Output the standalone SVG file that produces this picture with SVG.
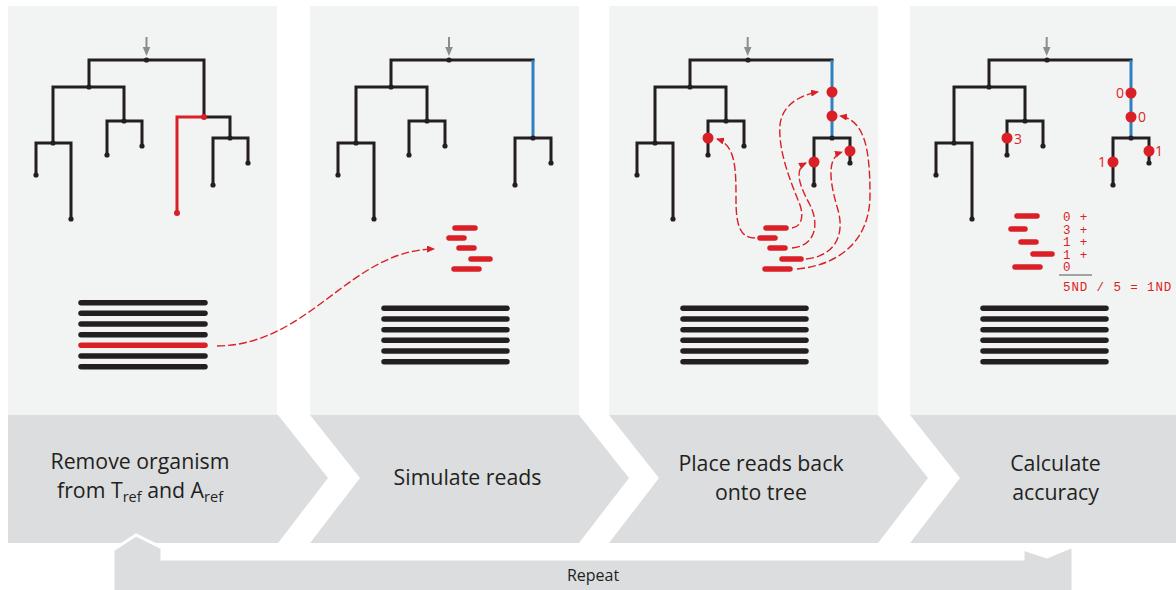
<svg xmlns="http://www.w3.org/2000/svg" width="1176" height="590" viewBox="0 0 1176 590">
  <style>
    .panel { fill: #f2f3f3; }
    .chev { fill: #dcdddf; }
    .br { fill: none; stroke: #231f20; stroke-width: 3; stroke-linecap: square; stroke-linejoin: miter; }
    .br.blue { stroke: #2f7fc1; stroke-linecap: butt; }
    .br.red { stroke: #da1f26; }
    .node { fill: #231f20; }
    .dot { fill: #da1f26; }
    .aln { stroke: #231f20; stroke-width: 5.5; stroke-linecap: round; }
    .read { stroke: #da1f26; stroke-width: 5.5; stroke-linecap: round; }
    .dash { fill: none; stroke: #da1f26; stroke-width: 1.4; stroke-dasharray: 8 3; marker-end: url(#head); }
    .root { stroke: #8b8d90; stroke-width: 2; }
    .rootHead { fill: #8b8d90; }
    .step { font-family: "Open Sans", "Liberation Sans", sans-serif; font-size: 21.3px; fill: #231f20; text-anchor: middle; }
    .sub { font-size: 14.5px; }
    .num { font-family: "Open Sans", "Liberation Sans", sans-serif; font-size: 14px; fill: #da1f26; }
    .mono { font-family: "Liberation Mono", "DejaVu Sans Mono", monospace; font-size: 12.5px; letter-spacing: 0.9px; fill: #da1f26; }
  </style>
  <defs>
    <marker id="head" viewBox="0 0 8 7" refX="7" refY="3.5" markerWidth="8" markerHeight="7" markerUnits="userSpaceOnUse" orient="auto">
      <path d="M0,0 L8,3.5 L0,7 z" fill="#da1f26"/>
    </marker>
    <g id="rootArrow">
      <line class="root" x1="0" y1="37" x2="0" y2="50"/>
      <path class="rootHead" d="M-3.8,47 L3.8,47 L0,56 z"/>
    </g>
    <!-- reduced tree (organism removed), right branch highlighted -->
    <g id="tree">
      <path class="br" d="M391,87 V60 H533"/>
      <path class="br blue" d="M533,60 V138"/>
      <path class="br" d="M356,143 V87 H427 V121"/>
      <path class="br" d="M338,175 V143 H374 V219"/>
      <path class="br" d="M409,155 V121 H445 V146"/>
      <path class="br" d="M515,185 V138 H551 V163"/>
      <circle class="node" cx="449" cy="60" r="2.6"/>
      <circle class="node" cx="391" cy="87" r="2.6"/>
      <circle class="node" cx="356" cy="143" r="2.6"/>
      <circle class="node" cx="427" cy="121" r="2.6"/>
      <circle class="node" cx="533" cy="138" r="2.6"/>
      <circle class="node" cx="338" cy="175" r="2.6"/>
      <circle class="node" cx="374" cy="219" r="2.6"/>
      <circle class="node" cx="409" cy="155" r="2.6"/>
      <circle class="node" cx="445" cy="146" r="2.6"/>
      <circle class="node" cx="515" cy="185" r="2.6"/>
      <circle class="node" cx="551" cy="163" r="2.6"/>
    </g>
    <g id="alignment">
      <line class="aln" x1="0" y1="308.3" x2="123" y2="308.3"/>
      <line class="aln" x1="0" y1="319" x2="123" y2="319"/>
      <line class="aln" x1="0" y1="329.7" x2="123" y2="329.7"/>
      <line class="aln" x1="0" y1="340.3" x2="123" y2="340.3"/>
      <line class="aln" x1="0" y1="351" x2="123" y2="351"/>
      <line class="aln" x1="0" y1="361.7" x2="123" y2="361.7"/>
    </g>
    <g id="reads">
      <line class="read" x1="455" y1="228" x2="475" y2="228"/>
      <line class="read" x1="449" y1="238" x2="464" y2="238"/>
      <line class="read" x1="459" y1="248" x2="474" y2="248"/>
      <line class="read" x1="471" y1="259" x2="490" y2="259"/>
      <line class="read" x1="454" y1="269" x2="479" y2="269"/>
    </g>
  </defs>

  <!-- upper panels -->
  <rect class="panel" x="8" y="6" width="269" height="409"/>
  <rect class="panel" x="310" y="6" width="269" height="409"/>
  <rect class="panel" x="609" y="6" width="269" height="409"/>
  <rect class="panel" x="910" y="6" width="266" height="409"/>

  <!-- step 1: remove organism -->
  <g id="step1">
    <polygon class="chev" points="8,415 278,415 328,478 278,543 8,543"/>
    <use href="#rootArrow" x="146.5"/>
    <path class="br" d="M89,87 V60 H204 V117"/>
    <path class="br" d="M53,143 V87 H124 V121"/>
    <path class="br" d="M36,175 V143 H71 V219"/>
    <path class="br" d="M107,155 V121 H142 V146"/>
    <path class="br" d="M204,117 H230 V138"/>
    <path class="br" d="M213,185 V138 H248 V163"/>
    <path class="br red" d="M204,117 H177 V213"/>
    <circle class="node" cx="146.5" cy="60" r="2.6"/>
    <circle class="node" cx="89" cy="87" r="2.6"/>
    <circle class="node" cx="53" cy="143" r="2.6"/>
    <circle class="node" cx="124" cy="121" r="2.6"/>
    <circle class="node" cx="230" cy="138" r="2.6"/>
    <circle class="node" cx="36" cy="175" r="2.6"/>
    <circle class="node" cx="71" cy="219" r="2.6"/>
    <circle class="node" cx="107" cy="155" r="2.6"/>
    <circle class="node" cx="142" cy="146" r="2.6"/>
    <circle class="node" cx="213" cy="185" r="2.6"/>
    <circle class="node" cx="248" cy="163" r="2.6"/>
    <circle class="dot" cx="204" cy="117" r="3"/>
    <circle class="dot" cx="177" cy="213" r="3"/>
    <line class="aln" x1="81" y1="302.7" x2="205" y2="302.7"/>
    <line class="aln" x1="81" y1="313.3" x2="205" y2="313.3"/>
    <line class="aln" x1="81" y1="324" x2="205" y2="324"/>
    <line class="aln" x1="81" y1="334.7" x2="205" y2="334.7"/>
    <line class="read" x1="81" y1="345.3" x2="205" y2="345.3"/>
    <line class="aln" x1="81" y1="356" x2="205" y2="356"/>
    <line class="aln" x1="81" y1="366.7" x2="205" y2="366.7"/>
    <text class="step" x="140" y="469">Remove organism</text>
    <text class="step" x="140" y="498">from T<tspan class="sub" dy="4">ref</tspan><tspan dy="-4"> and A</tspan><tspan class="sub" dy="4">ref</tspan></text>
  </g>

  <!-- step 2: simulate reads -->
  <g id="step2">
    <polygon class="chev" points="310,415 579,415 629,478 579,543 310,543 360,478"/>
    <use href="#rootArrow" x="449"/>
    <use href="#tree"/>
    <use href="#reads"/>
    <use href="#alignment" x="384"/>
    <text class="step" x="467.5" y="485">Simulate reads</text>
  </g>

  <!-- step 3: place reads back onto tree -->
  <g id="step3">
    <polygon class="chev" points="609,415 878,415 928,478 878,543 609,543 659,478"/>
    <use href="#rootArrow" x="747.7"/>
    <use href="#tree" x="299"/>
    <circle class="dot" cx="708" cy="138" r="5.5"/>
    <circle class="dot" cx="832" cy="92" r="5.5"/>
    <circle class="dot" cx="832" cy="116" r="5.5"/>
    <circle class="dot" cx="814" cy="162" r="5.5"/>
    <circle class="dot" cx="850" cy="151" r="5.5"/>
    <use href="#reads" x="311"/>
    <use href="#alignment" x="683"/>
    <text class="step" x="761" y="471">Place reads back</text>
    <text class="step" x="761" y="500">onto tree</text>
  </g>

  <!-- step 4: calculate accuracy -->
  <g id="step4">
    <polygon class="chev" points="910,415 1176,415 1176,543 910,543 960,478"/>
    <use href="#rootArrow" x="1046.7"/>
    <use href="#tree" x="598"/>
    <circle class="dot" cx="1007" cy="138" r="5.5"/>
    <circle class="dot" cx="1131" cy="93" r="5.5"/>
    <circle class="dot" cx="1131" cy="117" r="5.5"/>
    <circle class="dot" cx="1113" cy="162" r="5.5"/>
    <circle class="dot" cx="1149" cy="151" r="5.5"/>
    <text class="num" x="1124" y="98" text-anchor="end">0</text>
    <text class="num" x="1138" y="122">0</text>
    <text class="num" x="1014" y="144">3</text>
    <text class="num" x="1106" y="167" text-anchor="end">1</text>
    <text class="num" x="1155" y="156">1</text>
    <line class="read" x1="1017" y1="216" x2="1037" y2="216"/>
    <line class="read" x1="1011" y1="229" x2="1025" y2="229"/>
    <line class="read" x1="1021" y1="242" x2="1036" y2="242"/>
    <line class="read" x1="1033" y1="254" x2="1052" y2="254"/>
    <line class="read" x1="1015" y1="267" x2="1040" y2="267"/>
    <text class="mono" x="1063" y="221">0 +</text>
    <text class="mono" x="1063" y="233.5">3 +</text>
    <text class="mono" x="1063" y="246">1 +</text>
    <text class="mono" x="1063" y="258.5">1 +</text>
    <text class="mono" x="1063" y="271">0</text>
    <line x1="1059" y1="275" x2="1092" y2="275" stroke="#555" stroke-width="1"/>
    <text class="mono" x="1063" y="291">5ND / 5 = 1ND</text>
    <use href="#alignment" x="983"/>
    <text class="step" x="1055.5" y="471">Calculate</text>
    <text class="step" x="1055.5" y="500">accuracy</text>
  </g>

  <!-- repeat loop back to the first step -->
  <g id="repeat">
    <polygon points="113,550 136,535 162,548 162,559 1023,559 1023,549 1047,557 1073,546 1073,592 113,592" fill="#dcdddf" stroke="#ffffff" stroke-width="3" stroke-linejoin="miter"/>
    <text x="593" y="581" font-family="'Open Sans', 'Liberation Sans', sans-serif" font-size="16" fill="#231f20" text-anchor="middle">Repeat</text>
  </g>

  <!-- dashed connectors -->
  <g id="connectors">
    <path class="dash" d="M217,346 C310,345 350,250 434,249"/>
    <path class="dash" d="M792,228 C805,226 803,210 798,200 C790,180 778,150 780,125 C782,105 800,95 818,92"/>
    <path class="dash" d="M755,238 C740,238 736,225 736,200 C736,170 736,145 717,139"/>
    <path class="dash" d="M792,248 C815,246 820,225 810,205 C802,190 792,170 806,163"/>
    <path class="dash" d="M806,259 C835,256 845,235 838,210 C832,190 824,158 842,152"/>
    <path class="dash" d="M797,269 C840,265 870,240 870,195 C870,150 865,120 840,116"/>
  </g>
</svg>
